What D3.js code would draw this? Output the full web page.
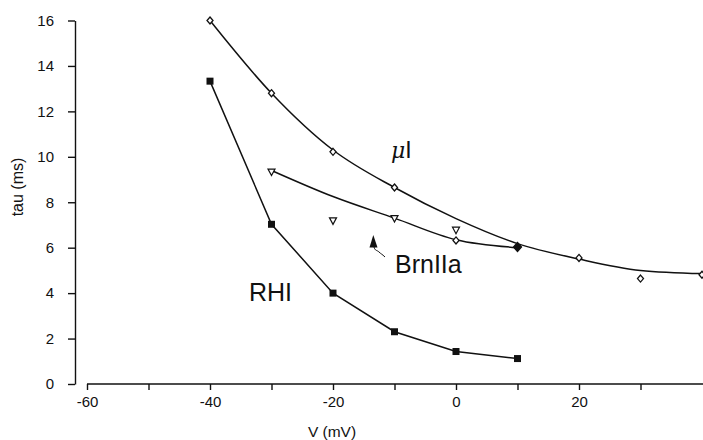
<!DOCTYPE html>
<html>
<head>
<meta charset="utf-8">
<script src="https://cdn.jsdelivr.net/npm/d3@7"></script>
<style>
  body { margin: 0; background: #fff; }
  svg text { font-family: "Liberation Sans", Arial, sans-serif; fill: #111; }
</style>
</head>
<body>
<svg id="chart" width="703" height="440"></svg>
<script>
// data
var voltage = [-40, -30, -20, -10, 0, 10];

var muV   = [-40, -30, -20, -10, 0, 10, 20, 30, 40];
var muTau = [16.0, 12.8, 10.22, 8.65, 6.32, 6.03, 5.55, 4.64, 4.81];
// hand-read samples of the fitted curve for uI
var muFitV   = [-40, -30, -20, -10, 0, 10, 20, 30, 40];
var muFitTau = [16.0, 12.8, 10.3, 8.65, 7.28, 6.18, 5.5, 5.0, 4.86];

var brnV   = [-30, -20, -10, 0];
var brnTau = [9.33, 7.18, 7.28, 6.77];
var brnFitV   = [-30, -20, -10, 0, 10];
var brnFitTau = [9.4, 8.25, 7.3, 6.35, 6.0];

var rhiTau = [13.33, 7.03, 4.0, 2.3, 1.43, 1.12];

var xTicks = [-60, -50, -40, -30, -20, -10, 0, 10, 20, 30];
var xTickLabels = ["-60", "-40", "-20", "0", "20"];
var yTicks = [0, 2, 4, 6, 8, 10, 12, 14, 16];

(function() {
    var svg = d3.select("#chart");

    var x = d3.scaleLinear().domain([-60, 40]).range([87, 702]),
        y = d3.scaleLinear().domain([0, 16]).range([384, 20.5]);

    // axes
    var xAxis = d3.axisBottom(x)
        .tickValues(xTicks)
        .tickSize(6)
        .tickSizeOuter(0)
        .tickPadding(6)
        .tickFormat(function(d) {
            var s = String(d);
            return xTickLabels.indexOf(s) >= 0 ? s : "";
        });

    var yAxis = d3.axisLeft(y)
        .tickValues(yTicks)
        .tickSize(7)
        .tickSizeOuter(0)
        .tickPadding(14);

    var gx = svg.append("g").attr("transform", "translate(0,384)").call(xAxis);
    var gy = svg.append("g").attr("transform", "translate(75,0)").call(yAxis);

    [gx, gy].forEach(function(g) {
        g.selectAll("path, line").attr("stroke", "#111").attr("stroke-width", 1.4);
        g.selectAll("text").attr("font-size", 15).attr("font-family", "Liberation Sans, Arial, sans-serif").attr("fill", "#111");
    });
    gx.select(".domain").attr("d", "M" + x(-60) + ",0H703");

    svg.append("text")
        .attr("x", 332).attr("y", 437)
        .attr("text-anchor", "middle")
        .attr("font-size", 15.5)
        .text("V (mV)");

    svg.append("text")
        .attr("transform", "translate(23,187) rotate(-90)")
        .attr("text-anchor", "middle")
        .attr("font-size", 16)
        .text("tau (ms)");

    // lines
    function pts(vs, ts) {
        return vs.map(function(v, i) { return [v, ts[i]]; });
    }

    var smooth = d3.line()
        .x(function(d) { return x(d[0]); })
        .y(function(d) { return y(d[1]); })
        .curve(d3.curveMonotoneX);

    var straight = d3.line()
        .x(function(d) { return x(d[0]); })
        .y(function(d) { return y(d[1]); });

    svg.append("path")
        .attr("d", smooth(pts(muFitV, muFitTau)))
        .attr("fill", "none").attr("stroke", "#111").attr("stroke-width", 1.5);

    svg.append("path")
        .attr("d", smooth(pts(brnFitV, brnFitTau)))
        .attr("fill", "none").attr("stroke", "#111").attr("stroke-width", 1.5);

    svg.append("path")
        .attr("d", straight(pts(voltage, rhiTau)))
        .attr("fill", "none").attr("stroke", "#111").attr("stroke-width", 1.5);

    // markers
    var lastBrn = brnFitV[brnFitV.length - 1];

    svg.selectAll(".mu")
        .data(pts(muV, muTau))
        .enter().append("path")
        .attr("class", "mu")
        .attr("transform", function(d) { return "translate(" + x(d[0]) + "," + y(d[1]) + ")"; })
        .attr("d", function(d) {
            return d[0] === lastBrn ? "M0,-4.5L4,0L0,4.5L-4,0Z" : "M0,-3.5L3,0L0,3.5L-3,0Z";
        })
        .attr("fill", function(d) { return d[0] === lastBrn ? "#111" : "#fff"; })
        .attr("stroke", "#111").attr("stroke-width", 1.3);

    svg.selectAll(".brn")
        .data(pts(brnV, brnTau))
        .enter().append("path")
        .attr("class", "brn")
        .attr("transform", function(d) { return "translate(" + x(d[0]) + "," + y(d[1]) + ")"; })
        .attr("d", "M-3.5,-3L3.5,-3L0,3.5Z")
        .attr("fill", "#fff").attr("stroke", "#111").attr("stroke-width", 1.2);

    svg.selectAll(".rhi")
        .data(pts(voltage, rhiTau))
        .enter().append("rect")
        .attr("class", "rhi")
        .attr("x", function(d) { return x(d[0]) - 3.5; })
        .attr("y", function(d) { return y(d[1]) - 3.5; })
        .attr("width", 7).attr("height", 7)
        .attr("fill", "#111");

    // series labels
    var mu = svg.append("text").attr("x", 391).attr("y", 158).attr("font-size", 23);
    mu.append("tspan").attr("font-style", "italic").attr("font-family", "DejaVu Serif, serif").attr("font-size", 22).text("\u03bc");
    mu.append("tspan").text("I");

    svg.append("text").attr("x", 395).attr("y", 273).attr("font-size", 25).text("BrnIIa");
    svg.append("text").attr("x", 249).attr("y", 301).attr("font-size", 25).text("RHI");

    // pointer to BrnIIa
    svg.append("path")
        .attr("d", "M373.3,235L377.5,247.5L369.5,247.5Z")
        .attr("fill", "#111");
    svg.append("path")
        .attr("d", "M374,247C375,251 377,250 379,252S382,254 385,257")
        .attr("fill", "none").attr("stroke", "#111").attr("stroke-width", 1);
})();
</script>
</body>
</html>
